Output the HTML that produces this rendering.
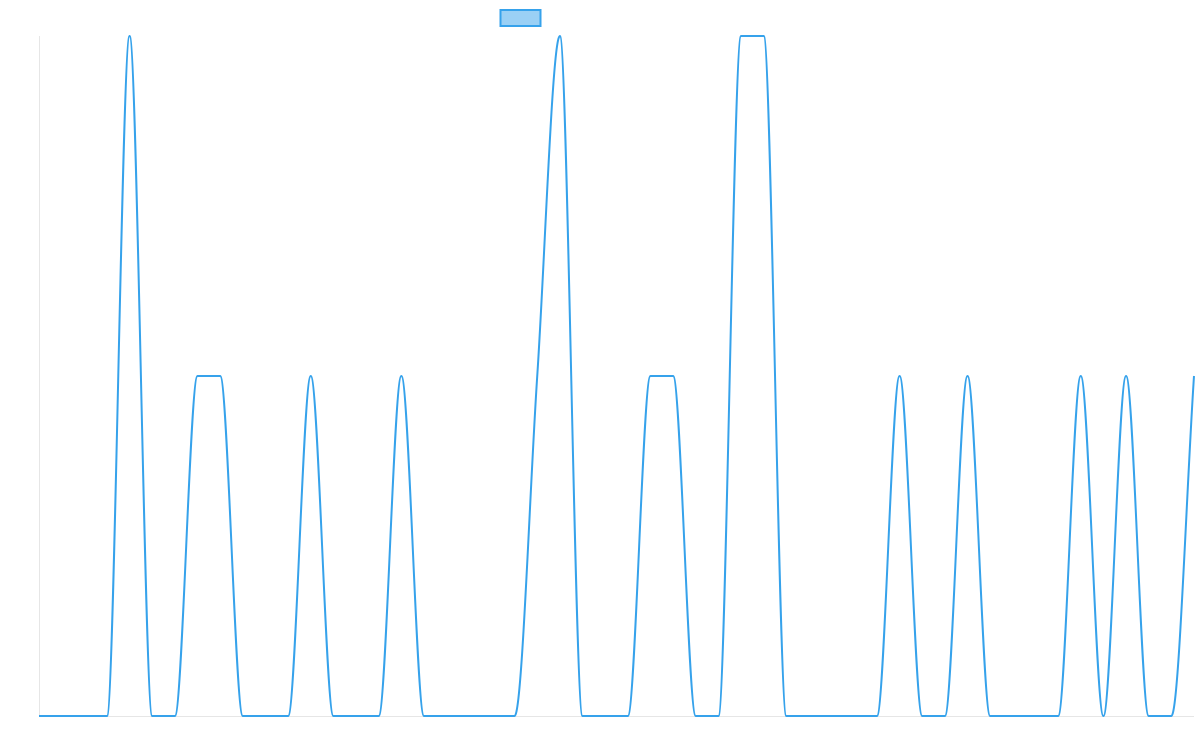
<!DOCTYPE html>
<html><head><meta charset="utf-8"><style>
html,body{margin:0;padding:0;background:#fff;width:1200px;height:750px;overflow:hidden;font-family:"Liberation Sans",sans-serif}
</style></head><body>
<svg id="chart" width="1200" height="750" viewBox="0 0 1200 750" xmlns="http://www.w3.org/2000/svg">
<rect x="500.5" y="10" width="40" height="16" fill="rgba(54,162,235,0.5)" stroke="#36a2eb" stroke-width="2"/>
<line x1="39.5" y1="36" x2="39.5" y2="716" stroke="#e6e6e6"/>
<line x1="39" y1="716.5" x2="1194" y2="716.5" stroke="#e6e6e6"/>
<g id="plot"></g>
</svg>
<script>
const values=[0,0,0,0,1,0,0,0.5,0.5,0,0,0,0.5,0,0,0,0.5,0,0,0,0,0,0.5,1,0,0,0,0.5,0.5,0,0,1,1,0,0,0,0,0,0.5,0,0,0.5,0,0,0,0,0.5,0,0.5,0,0,0.5];
const yMin=0, yMax=1;
const X0=39,X1=1194,Y0=716,Y1=36;
function xScale(i){return X0+i*(X1-X0)/(values.length-1);}
function yScale(v){return Y0-(v-yMin)/(yMax-yMin)*(Y0-Y1);}
const pts=values.map((v,i)=>({x:xScale(i),y:yScale(v)}));
const n=pts.length,d=[],m=[];
for(let i=0;i<n-1;i++){d[i]=(pts[i+1].y-pts[i].y)/(pts[i+1].x-pts[i].x);}
for(let i=0;i<n;i++){
  if(i===0)m[i]=d[0];else if(i===n-1)m[i]=d[n-2];
  else m[i]=(Math.sign(d[i-1])!==Math.sign(d[i]))?0:(d[i-1]+d[i])/2;
}
for(let i=0;i<n-1;i++){
  if(d[i]===0){m[i]=0;m[i+1]=0;continue;}
  const a=m[i]/d[i],b=m[i+1]/d[i],s=a*a+b*b;
  if(s>9){const t=3/Math.sqrt(s);m[i]=t*a*d[i];m[i+1]=t*b*d[i];}
}
let path=`M${pts[0].x},${pts[0].y}`;
for(let i=0;i<n-1;i++){
  const dx=(pts[i+1].x-pts[i].x)/3;
  let c1y=pts[i].y+m[i]*dx,c2y=pts[i+1].y-m[i+1]*dx;
  c1y=Math.min(Y0,Math.max(Y1,c1y));c2y=Math.min(Y0,Math.max(Y1,c2y));
  path+=` C${pts[i].x+dx},${c1y} ${pts[i+1].x-dx},${c2y} ${pts[i+1].x},${pts[i+1].y}`;
}
const p=document.createElementNS('http://www.w3.org/2000/svg','path');


p.setAttribute('d',path);p.setAttribute('fill','none');p.setAttribute('stroke','#36a2eb');p.setAttribute('stroke-width','2');
document.getElementById('plot').appendChild(p);
</script>
</body></html>
